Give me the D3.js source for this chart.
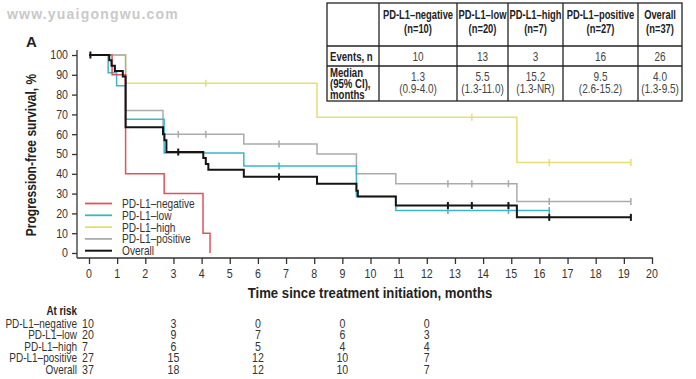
<!DOCTYPE html>
<html>
<head>
<meta charset="utf-8">
<script src="https://cdn.jsdelivr.net/npm/d3@7"></script>
<style>
  body { margin: 0; background: #fff; }
  text { font-family: "Liberation Sans", Arial, sans-serif; fill: #222; }
</style>
</head>
<body>
<div class="chart"></div>
<script>
var svgWidth = 696;
var svgHeight = 379;

// --- data ---
var groups = ["PD-L1–negative", "PD-L1–low", "PD-L1–high", "PD-L1–positive", "Overall"];
var colors = ["#e0525f", "#3cb6c6", "#e6de72", "#ababab", "#151515"];

var negTimes = [0, 0.82, 1.3, 2.67, 4.05, 4.3];
var negSurv = [100, 90, 40, 30, 10, 0];
var negCensor = [];
var negEnd = 4.3;

var lowTimes = [0, 0.68, 0.98, 1.3, 2.67, 5.5, 9.5, 10.9];
var lowSurv = [100, 91, 84.5, 67.5, 50.5, 44, 28.5, 21.5];
var lowCensor = [6.75, 12.75, 14.9, 16.35];
var lowEnd = 16.35;

var highTimes = [0, 1.3, 8.1, 15.2];
var highSurv = [100, 85.7, 68.6, 45.7];
var highCensor = [4.15, 13.6, 16.35, 19.25];
var highEnd = 19.25;

var posTimes = [0, 1.3, 2.63, 5.5, 8.1, 9.5, 10.9, 15.2];
var posSurv = [100, 72, 60, 55, 50, 40, 35, 26];
var posCensor = [3.17, 4.15, 6.75, 12.75, 13.6, 14.9, 16.35, 19.25];
var posEnd = 19.25;

var allTimes = [0, 0.72, 0.8, 0.92, 1.2, 1.3, 2.63, 2.68, 2.75, 4.06, 4.15, 4.24, 5.5, 8.1, 9.5, 9.55, 10.9, 15.2];
var allSurv = [100, 97.3, 94.6, 91.9, 89.2, 63.5, 60, 57, 51, 48, 45, 42, 38.5, 35, 31.5, 28.5, 24, 18];
var allCensor = [0.05, 3.17, 6.75, 12.75, 13.6, 14.9, 16.35, 19.25];
var allEnd = 19.25;

var xTicks = d3.range(0, 21, 1);
var yTicks = d3.range(0, 101, 10);

var tableHeads = ["PD-L1–negative", "PD-L1–low", "PD-L1–high", "PD-L1–positive", "Overall"];
var tableN = ["(n=10)", "(n=20)", "(n=7)", "(n=27)", "(n=37)"];
var events = ["10", "13", "3", "16", "26"];
var medians = ["1.3", "5.5", "15.2", "9.5", "4.0"];
var cis = ["(0.9-4.0)", "(1.3-11.0)", "(1.3-NR)", "(2.6-15.2)", "(1.3-9.5)"];

var riskTimes = [0, 3, 6, 9, 12];
var negRisk = [10, 3, 0, 0, 0];
var lowRisk = [20, 9, 7, 6, 3];
var highRisk = [7, 6, 5, 4, 4];
var posRisk = [27, 15, 12, 10, 7];
var allRisk = [37, 18, 12, 10, 7];

// --- layout ---
var x = d3.scaleLinear().domain([0, 20]).range([89, 652]);
var y = d3.scaleLinear().domain([0, 100]).range([253, 55]);

var svg = d3.select(".chart")
  .append("svg")
  .attr("width", svgWidth)
  .attr("height", svgHeight);

// narrow-looking text: squeeze horizontally
function label(g, tx, ty, str, size, anchor, bold, fill, sx) {
  return g.append("text")
    .attr("transform", `translate(${tx},${ty}) scale(${sx || 0.8},1)`)
    .attr("text-anchor", anchor || "start")
    .style("font-size", size + "px")
    .style("font-weight", bold ? "bold" : "normal")
    .style("fill", fill || "#333")
    .text(str);
}

// watermark
svg.append("text")
  .attr("x", 7)
  .attr("y", 19)
  .style("font-weight", "bold")
  .style("font-size", "14px")
  .style("letter-spacing", "1.2px")
  .style("fill", "#c9c9c9")
  .text("www.yuaigongwu.com");

svg.append("text")
  .attr("x", 26)
  .attr("y", 47)
  .style("font-weight", "bold")
  .style("font-size", "15px")
  .text("A");

// axes
var leftAxis = d3.axisLeft(y).tickValues(yTicks).tickSize(5).tickSizeOuter(0).tickFormat("");
var yAxisG = svg.append("g")
  .attr("transform", "translate(77,0)")
  .call(leftAxis);
yAxisG.select(".domain").attr("d", "M0,50V258");

var bottomAxis = d3.axisBottom(x).tickValues(xTicks).tickSize(6).tickSizeOuter(0).tickFormat("");
var xAxisG = svg.append("g")
  .attr("transform", "translate(0,258)")
  .call(bottomAxis);
xAxisG.select(".domain").attr("d", "M77,0H653");

svg.selectAll(".domain, .tick line").attr("stroke", "#333").attr("stroke-width", 1.3);

yTicks.forEach(function(v) {
  label(svg, 68, y(v) + 4.3, v, 12.5, "end", false, "#333", 0.85);
});
xTicks.forEach(function(v) {
  label(svg, x(v), 278, v, 12.5, "middle", false, "#333", 0.85);
});

svg.append("text")
  .attr("transform", "translate(36,155) rotate(-90) scale(0.86,1)")
  .attr("text-anchor", "middle")
  .style("font-weight", "bold")
  .style("font-size", "14px")
  .text("Progression-free survival, %");

svg.append("text")
  .attr("transform", "translate(370,298) scale(0.94,1)")
  .attr("text-anchor", "middle")
  .style("font-weight", "bold")
  .style("font-size", "14px")
  .text("Time since treatment initiation, months");

// curves
var curves = [
  { t: highTimes, s: highSurv, c: highCensor, end: highEnd, col: colors[2], w: 1.5 },
  { t: posTimes, s: posSurv, c: posCensor, end: posEnd, col: colors[3], w: 1.5 },
  { t: lowTimes, s: lowSurv, c: lowCensor, end: lowEnd, col: colors[1], w: 1.5 },
  { t: negTimes, s: negSurv, c: negCensor, end: negEnd, col: colors[0], w: 1.5 },
  { t: allTimes, s: allSurv, c: allCensor, end: allEnd, col: colors[4], w: 2 }
];

var stepLine = d3.line()
  .x(d => x(d[0]))
  .y(d => y(d[1]))
  .curve(d3.curveStepAfter);

function survAt(cv, t) {
  var v = cv.s[0];
  cv.t.forEach(function(tt, i) { if (tt <= t) v = cv.s[i]; });
  return v;
}

curves.forEach(function(cv) {
  var pts = cv.t.map((t, i) => [t, cv.s[i]]);
  pts.push([cv.end, cv.s[cv.s.length - 1]]);
  svg.append("path")
    .attr("d", stepLine(pts))
    .attr("fill", "none")
    .attr("stroke", cv.col)
    .attr("stroke-width", cv.w);

  svg.selectAll(null)
    .data(cv.c)
    .enter()
    .append("line")
    .attr("x1", d => x(d))
    .attr("x2", d => x(d))
    .attr("y1", d => y(survAt(cv, d)) - 3.5)
    .attr("y2", d => y(survAt(cv, d)) + 3.5)
    .attr("stroke", cv.col)
    .attr("stroke-width", cv.w);
});

// legend
var legend = svg.append("g");
groups.forEach(function(g, i) {
  var ly = 203.5 + i * 11.8;
  legend.append("line")
    .attr("x1", 85).attr("x2", 112)
    .attr("y1", ly).attr("y2", ly)
    .attr("stroke", colors[i])
    .attr("stroke-width", i == 4 ? 2 : 1.8);
  label(legend, 122, ly + 4.5, g, 13, "start", false, "#333", 0.78);
});

// table
var colEdges = [327, 379, 457, 508, 563, 638, 682];
var rowEdges = [3, 46, 66, 101];
var table = svg.append("g");
table.append("rect")
  .attr("x", colEdges[0]).attr("y", rowEdges[0])
  .attr("width", colEdges[6] - colEdges[0])
  .attr("height", rowEdges[3] - rowEdges[0])
  .attr("fill", "#fff")
  .attr("stroke", "#222").attr("stroke-width", 1.3);
colEdges.slice(1, 6).forEach(function(cx) {
  table.append("line").attr("x1", cx).attr("x2", cx)
    .attr("y1", rowEdges[0]).attr("y2", rowEdges[3])
    .attr("stroke", "#222").attr("stroke-width", 1.3);
});
rowEdges.slice(1, 3).forEach(function(ry) {
  table.append("line").attr("x1", colEdges[0]).attr("x2", colEdges[6])
    .attr("y1", ry).attr("y2", ry)
    .attr("stroke", "#222").attr("stroke-width", 1.3);
});

tableHeads.forEach(function(h, i) {
  var cx = (colEdges[i + 1] + colEdges[i + 2]) / 2;
  label(table, cx, 19, h, 12, "middle", true, "#222", 0.78);
  label(table, cx, 33, tableN[i], 12, "middle", true, "#222", 0.78);
  label(table, cx, 61, events[i], 12.5, "middle", false, "#444", 0.8);
  label(table, cx, 81, medians[i], 12.5, "middle", false, "#444", 0.8);
  label(table, cx, 93, cis[i], 12.5, "middle", false, "#444", 0.8);
});
label(table, 330, 61, "Events, n", 12, "start", true, "#222", 0.8);
["Median", "(95% CI),", "months"].forEach(function(s, i) {
  label(table, 330, 77 + i * 10.8, s, 12, "start", true, "#222", 0.8);
});

// at risk
var riskRows = [negRisk, lowRisk, highRisk, posRisk, allRisk];
label(svg, 77, 315, "At risk", 12, "end", true, "#222", 0.82);
riskRows.forEach(function(row, i) {
  var ry = 327.5 + i * 11.5;
  label(svg, 77, ry, groups[i], 12.5, "end", false, "#333", 0.8);
  row.forEach(function(v, j) {
    label(svg, j == 0 ? 82 : x(riskTimes[j]), ry, v, 12.5, j == 0 ? "start" : "middle", false, "#333", 0.85);
  });
});
</script>
</body>
</html>
